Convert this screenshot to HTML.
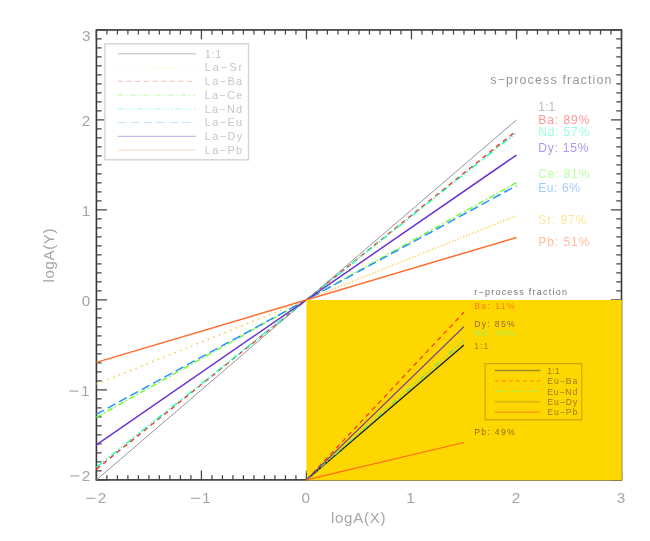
<!DOCTYPE html>
<html><head><meta charset="utf-8"><title>plot</title>
<style>html,body{margin:0;padding:0;background:#fff;}svg{display:block;will-change:transform;}text{font-family:"Liberation Sans",sans-serif;}</style>
</head><body>
<svg width="650" height="541" viewBox="0 0 650 541">
<rect x="0" y="0" width="650" height="541" fill="#ffffff"/>
<g stroke="#363636" stroke-width="1.6" fill="none" stroke-linecap="square">
<rect x="96.40" y="29.95" width="525.10" height="449.95"/>
</g>
<g stroke="#444444" stroke-width="1.25" fill="none">
<path d="M96.40 29.95v9.4M96.40 479.90v-9.4"/>
<path d="M106.90 29.95v4.6M106.90 479.90v-4.6"/>
<path d="M117.40 29.95v4.6M117.40 479.90v-4.6"/>
<path d="M127.91 29.95v4.6M127.91 479.90v-4.6"/>
<path d="M138.41 29.95v4.6M138.41 479.90v-4.6"/>
<path d="M148.91 29.95v4.6M148.91 479.90v-4.6"/>
<path d="M159.41 29.95v4.6M159.41 479.90v-4.6"/>
<path d="M169.91 29.95v4.6M169.91 479.90v-4.6"/>
<path d="M180.42 29.95v4.6M180.42 479.90v-4.6"/>
<path d="M190.92 29.95v4.6M190.92 479.90v-4.6"/>
<path d="M201.42 29.95v9.4M201.42 479.90v-9.4"/>
<path d="M211.92 29.95v4.6M211.92 479.90v-4.6"/>
<path d="M222.42 29.95v4.6M222.42 479.90v-4.6"/>
<path d="M232.93 29.95v4.6M232.93 479.90v-4.6"/>
<path d="M243.43 29.95v4.6M243.43 479.90v-4.6"/>
<path d="M253.93 29.95v4.6M253.93 479.90v-4.6"/>
<path d="M264.43 29.95v4.6M264.43 479.90v-4.6"/>
<path d="M274.93 29.95v4.6M274.93 479.90v-4.6"/>
<path d="M285.44 29.95v4.6M285.44 479.90v-4.6"/>
<path d="M295.94 29.95v4.6M295.94 479.90v-4.6"/>
<path d="M306.44 29.95v9.4M306.44 479.90v-9.4"/>
<path d="M316.94 29.95v4.6M316.94 479.90v-4.6"/>
<path d="M327.44 29.95v4.6M327.44 479.90v-4.6"/>
<path d="M337.95 29.95v4.6M337.95 479.90v-4.6"/>
<path d="M348.45 29.95v4.6M348.45 479.90v-4.6"/>
<path d="M358.95 29.95v4.6M358.95 479.90v-4.6"/>
<path d="M369.45 29.95v4.6M369.45 479.90v-4.6"/>
<path d="M379.95 29.95v4.6M379.95 479.90v-4.6"/>
<path d="M390.46 29.95v4.6M390.46 479.90v-4.6"/>
<path d="M400.96 29.95v4.6M400.96 479.90v-4.6"/>
<path d="M411.46 29.95v9.4M411.46 479.90v-9.4"/>
<path d="M421.96 29.95v4.6M421.96 479.90v-4.6"/>
<path d="M432.46 29.95v4.6M432.46 479.90v-4.6"/>
<path d="M442.97 29.95v4.6M442.97 479.90v-4.6"/>
<path d="M453.47 29.95v4.6M453.47 479.90v-4.6"/>
<path d="M463.97 29.95v4.6M463.97 479.90v-4.6"/>
<path d="M474.47 29.95v4.6M474.47 479.90v-4.6"/>
<path d="M484.97 29.95v4.6M484.97 479.90v-4.6"/>
<path d="M495.48 29.95v4.6M495.48 479.90v-4.6"/>
<path d="M505.98 29.95v4.6M505.98 479.90v-4.6"/>
<path d="M516.48 29.95v9.4M516.48 479.90v-9.4"/>
<path d="M526.98 29.95v4.6M526.98 479.90v-4.6"/>
<path d="M537.48 29.95v4.6M537.48 479.90v-4.6"/>
<path d="M547.99 29.95v4.6M547.99 479.90v-4.6"/>
<path d="M558.49 29.95v4.6M558.49 479.90v-4.6"/>
<path d="M568.99 29.95v4.6M568.99 479.90v-4.6"/>
<path d="M579.49 29.95v4.6M579.49 479.90v-4.6"/>
<path d="M589.99 29.95v4.6M589.99 479.90v-4.6"/>
<path d="M600.50 29.95v4.6M600.50 479.90v-4.6"/>
<path d="M611.00 29.95v4.6M611.00 479.90v-4.6"/>
<path d="M621.50 29.95v9.4M621.50 479.90v-9.4"/>
<path d="M96.40 479.90h10.5M621.50 479.90h-10.5"/>
<path d="M96.40 470.90h5.2M621.50 470.90h-5.2"/>
<path d="M96.40 461.90h5.2M621.50 461.90h-5.2"/>
<path d="M96.40 452.90h5.2M621.50 452.90h-5.2"/>
<path d="M96.40 443.90h5.2M621.50 443.90h-5.2"/>
<path d="M96.40 434.90h5.2M621.50 434.90h-5.2"/>
<path d="M96.40 425.91h5.2M621.50 425.91h-5.2"/>
<path d="M96.40 416.91h5.2M621.50 416.91h-5.2"/>
<path d="M96.40 407.91h5.2M621.50 407.91h-5.2"/>
<path d="M96.40 398.91h5.2M621.50 398.91h-5.2"/>
<path d="M96.40 389.91h10.5M621.50 389.91h-10.5"/>
<path d="M96.40 380.91h5.2M621.50 380.91h-5.2"/>
<path d="M96.40 371.91h5.2M621.50 371.91h-5.2"/>
<path d="M96.40 362.91h5.2M621.50 362.91h-5.2"/>
<path d="M96.40 353.91h5.2M621.50 353.91h-5.2"/>
<path d="M96.40 344.91h5.2M621.50 344.91h-5.2"/>
<path d="M96.40 335.92h5.2M621.50 335.92h-5.2"/>
<path d="M96.40 326.92h5.2M621.50 326.92h-5.2"/>
<path d="M96.40 317.92h5.2M621.50 317.92h-5.2"/>
<path d="M96.40 308.92h5.2M621.50 308.92h-5.2"/>
<path d="M96.40 299.92h10.5M621.50 299.92h-10.5"/>
<path d="M96.40 290.92h5.2M621.50 290.92h-5.2"/>
<path d="M96.40 281.92h5.2M621.50 281.92h-5.2"/>
<path d="M96.40 272.92h5.2M621.50 272.92h-5.2"/>
<path d="M96.40 263.92h5.2M621.50 263.92h-5.2"/>
<path d="M96.40 254.92h5.2M621.50 254.92h-5.2"/>
<path d="M96.40 245.93h5.2M621.50 245.93h-5.2"/>
<path d="M96.40 236.93h5.2M621.50 236.93h-5.2"/>
<path d="M96.40 227.93h5.2M621.50 227.93h-5.2"/>
<path d="M96.40 218.93h5.2M621.50 218.93h-5.2"/>
<path d="M96.40 209.93h10.5M621.50 209.93h-10.5"/>
<path d="M96.40 200.93h5.2M621.50 200.93h-5.2"/>
<path d="M96.40 191.93h5.2M621.50 191.93h-5.2"/>
<path d="M96.40 182.93h5.2M621.50 182.93h-5.2"/>
<path d="M96.40 173.93h5.2M621.50 173.93h-5.2"/>
<path d="M96.40 164.94h5.2M621.50 164.94h-5.2"/>
<path d="M96.40 155.94h5.2M621.50 155.94h-5.2"/>
<path d="M96.40 146.94h5.2M621.50 146.94h-5.2"/>
<path d="M96.40 137.94h5.2M621.50 137.94h-5.2"/>
<path d="M96.40 128.94h5.2M621.50 128.94h-5.2"/>
<path d="M96.40 119.94h10.5M621.50 119.94h-10.5"/>
<path d="M96.40 110.94h5.2M621.50 110.94h-5.2"/>
<path d="M96.40 101.94h5.2M621.50 101.94h-5.2"/>
<path d="M96.40 92.94h5.2M621.50 92.94h-5.2"/>
<path d="M96.40 83.94h5.2M621.50 83.94h-5.2"/>
<path d="M96.40 74.94h5.2M621.50 74.94h-5.2"/>
<path d="M96.40 65.95h5.2M621.50 65.95h-5.2"/>
<path d="M96.40 56.95h5.2M621.50 56.95h-5.2"/>
<path d="M96.40 47.95h5.2M621.50 47.95h-5.2"/>
<path d="M96.40 38.95h5.2M621.50 38.95h-5.2"/>
<path d="M96.40 29.95h10.5M621.50 29.95h-10.5"/>
</g>
<line x1="96.40" y1="479.90" x2="516.48" y2="119.94" stroke="#949494" stroke-width="1.0"/>
<line x1="96.40" y1="384.15" x2="306.44" y2="299.92" stroke="#ffc83c" stroke-width="1.5" stroke-dasharray="1.5 4.5"/>
<line x1="306.44" y1="299.92" x2="516.48" y2="215.69" stroke="#ffc83c" stroke-width="1.3" stroke-dasharray="1.3 1.77"/>
<line x1="96.40" y1="469.10" x2="516.48" y2="130.74" stroke="#ff2a2a" stroke-width="1.45" stroke-dasharray="4.7 4"/>
<line x1="96.40" y1="417.27" x2="516.48" y2="182.57" stroke="#6cff2c" stroke-width="1.45" stroke-dasharray="6 2.5 1.5 2.5"/>
<line x1="96.40" y1="467.30" x2="516.48" y2="132.54" stroke="#1effb0" stroke-width="1.45" stroke-dasharray="7 2 1.4 2 1.4 2 1.4 2"/>
<line x1="96.40" y1="414.21" x2="516.48" y2="185.63" stroke="#2a90ff" stroke-width="1.45" stroke-dasharray="8.7 4.2"/>
<line x1="96.40" y1="444.80" x2="516.48" y2="155.04" stroke="#6a32d2" stroke-width="1.5"/>
<line x1="96.40" y1="362.37" x2="516.48" y2="237.47" stroke="#ff6a2a" stroke-width="1.45"/>
<rect x="306.44" y="299.92" width="315.36" height="180.38" fill="#ffd700"/>
<path d="M306.44 479.90v-7" stroke="#4a3c10" stroke-width="0.8"/>
<line x1="306.44" y1="479.90" x2="463.97" y2="344.91" stroke="#1a1a10" stroke-width="1.3"/>
<line x1="306.44" y1="479.90" x2="463.97" y2="312.25" stroke="#ff3408" stroke-width="1.2" stroke-dasharray="4.7 4"/>
<line x1="306.44" y1="479.90" x2="463.97" y2="340.33" stroke="#46f088" stroke-width="1.3" stroke-dasharray="6 2.2 1.4 2.2 1.4 2.2 1.4 2.2"/>
<line x1="306.44" y1="479.90" x2="463.97" y2="326.69" stroke="#6434a4" stroke-width="1.15"/>
<line x1="306.44" y1="479.90" x2="463.97" y2="442.51" stroke="#ff6a1a" stroke-width="1.1"/>
<rect x="104.9" y="43.8" width="143.6" height="116" fill="#ffffff" stroke="#d4d4d4" stroke-width="1.4"/>
<line x1="117.8" y1="53.80" x2="195.7" y2="53.80" stroke="#d0d0d0" stroke-width="1.5"/>
<text x="204.8" y="57.70" font-size="11" fill="#c6c6c6" textLength="16.5" lengthAdjust="spacing">1:1</text>
<line x1="117.8" y1="67.55" x2="195.7" y2="67.55" stroke="#fff0c0" stroke-width="1.0" stroke-dasharray="1.2 2.6"/>
<text x="204.8" y="71.45" font-size="11" fill="#c6c6c6" textLength="37.4" lengthAdjust="spacing">La−Sr</text>
<line x1="117.8" y1="81.30" x2="195.7" y2="81.30" stroke="#ffb4b4" stroke-width="1.0" stroke-dasharray="4.7 4"/>
<text x="204.8" y="85.20" font-size="11" fill="#c6c6c6" textLength="37.4" lengthAdjust="spacing">La−Ba</text>
<line x1="117.8" y1="95.05" x2="195.7" y2="95.05" stroke="#ccffb4" stroke-width="1.2" stroke-dasharray="6 2.5 1.5 2.5"/>
<text x="204.8" y="98.95" font-size="11" fill="#c6c6c6" textLength="37.4" lengthAdjust="spacing">La−Ce</text>
<line x1="117.8" y1="108.80" x2="195.7" y2="108.80" stroke="#b4ffe4" stroke-width="1.2" stroke-dasharray="6 2.2 1.4 2.2 1.4 2.2 1.4 2.2"/>
<text x="204.8" y="112.70" font-size="11" fill="#c6c6c6" textLength="37.4" lengthAdjust="spacing">La−Nd</text>
<line x1="117.8" y1="122.55" x2="195.7" y2="122.55" stroke="#c4e2ff" stroke-width="1.0" stroke-dasharray="8.7 4.2"/>
<text x="204.8" y="126.45" font-size="11" fill="#c6c6c6" textLength="37.4" lengthAdjust="spacing">La−Eu</text>
<line x1="117.8" y1="136.30" x2="195.7" y2="136.30" stroke="#b8a6ec" stroke-width="1.0"/>
<text x="204.8" y="140.20" font-size="11" fill="#c6c6c6" textLength="37.4" lengthAdjust="spacing">La−Dy</text>
<line x1="117.8" y1="150.05" x2="195.7" y2="150.05" stroke="#ffd6c6" stroke-width="1.0"/>
<text x="204.8" y="153.95" font-size="11" fill="#c6c6c6" textLength="37.4" lengthAdjust="spacing">La−Pb</text>
<text x="102.1" y="503.4" text-anchor="middle" font-size="15.3" fill="#a4a4a4">2</text>
<line x1="86.2" y1="498.3" x2="95.5" y2="498.3" stroke="#a4a4a4" stroke-width="1.1"/>
<text x="206.2" y="503.4" text-anchor="middle" font-size="15.3" fill="#a4a4a4">1</text>
<line x1="191.0" y1="498.3" x2="200.0" y2="498.3" stroke="#a4a4a4" stroke-width="1.1"/>
<text x="305.8" y="503.4" text-anchor="middle" font-size="15.3" fill="#a4a4a4">0</text>
<text x="410.6" y="503.4" text-anchor="middle" font-size="15.3" fill="#a4a4a4">1</text>
<text x="516.0" y="503.4" text-anchor="middle" font-size="15.3" fill="#a4a4a4">2</text>
<text x="621.0" y="503.4" text-anchor="middle" font-size="15.3" fill="#a4a4a4">3</text>
<text x="86.2" y="41.3" text-anchor="middle" font-size="15.3" fill="#a4a4a4">3</text>
<text x="86.1" y="125.6" text-anchor="middle" font-size="15.3" fill="#a4a4a4">2</text>
<text x="86.0" y="215.6" text-anchor="middle" font-size="15.3" fill="#a4a4a4">1</text>
<text x="86.1" y="306.2" text-anchor="middle" font-size="15.3" fill="#a4a4a4">0</text>
<text x="85.2" y="396.1" text-anchor="middle" font-size="15.3" fill="#a4a4a4">1</text>
<line x1="69.2" y1="391.1" x2="78.5" y2="391.1" stroke="#a4a4a4" stroke-width="1.1"/>
<text x="86.0" y="480.9" text-anchor="middle" font-size="15.3" fill="#a4a4a4">2</text>
<line x1="70.0" y1="475.9" x2="79.4" y2="475.9" stroke="#a4a4a4" stroke-width="1.1"/>
<text x="358.2" y="522.6" text-anchor="middle" font-size="15" fill="#a6a6a6" textLength="54.5" lengthAdjust="spacing">logA(X)</text>
<text transform="translate(54.2 255.5) rotate(-90)" text-anchor="middle" font-size="15" fill="#a6a6a6" textLength="54" lengthAdjust="spacing">logA(Y)</text>
<text x="490.2" y="84" font-size="12.5" fill="#989898" textLength="121.3" lengthAdjust="spacing">s−process fraction</text>
<text x="538.3" y="110.6" font-size="12" fill="#bcbcbc" textLength="17" lengthAdjust="spacing">1:1</text>
<text x="538.3" y="124.0" font-size="12" fill="#ff9696" textLength="51" lengthAdjust="spacing">Ba: 89%</text>
<text x="538.3" y="135.8" font-size="12" fill="#98ffdc" textLength="51" lengthAdjust="spacing">Nd: 57%</text>
<text x="538.3" y="151.7" font-size="12" fill="#b09ae8" textLength="50" lengthAdjust="spacing">Dy: 15%</text>
<text x="538.3" y="178.3" font-size="12" fill="#bcffa2" textLength="51" lengthAdjust="spacing">Ce: 81%</text>
<text x="538.3" y="192.3" font-size="12" fill="#a2ceff" textLength="41.5" lengthAdjust="spacing">Eu: 6%</text>
<text x="538.3" y="223.8" font-size="12" fill="#ffe49a" textLength="48" lengthAdjust="spacing">Sr: 97%</text>
<text x="538.3" y="245.6" font-size="12" fill="#ffbca2" textLength="51" lengthAdjust="spacing">Pb: 51%</text>
<text x="474.2" y="295.4" font-size="9" fill="#747474" textLength="92.8" lengthAdjust="spacing">r−process fraction</text>
<text x="474.2" y="309.0" font-size="8.6" fill="#ff7a14" textLength="40.5" lengthAdjust="spacing">Ba: 11%</text>
<text x="474.2" y="326.7" font-size="8.6" fill="#8c6a3c" textLength="40.5" lengthAdjust="spacing">Dy: 85%</text>
<text x="474.2" y="335.6" font-size="8.6" fill="#a8ee50" textLength="40.5" lengthAdjust="spacing">Nd: 43%</text>
<text x="474.2" y="348.9" font-size="8.6" fill="#9c8620" textLength="14" lengthAdjust="spacing">1:1</text>
<text x="474.2" y="434.6" font-size="8.6" fill="#8c6a14" textLength="40.5" lengthAdjust="spacing">Pb: 49%</text>
<rect x="485.1" y="363.7" width="96.7" height="56.1" fill="none" stroke="#b89a0a" stroke-width="0.9"/>
<line x1="494.9" y1="370.50" x2="540.4" y2="370.50" stroke="#a08c28" stroke-width="1.4"/>
<text x="547.2" y="373.60" font-size="8.6" fill="#9a7a1e" textLength="12.5" lengthAdjust="spacing">1:1</text>
<line x1="494.9" y1="380.95" x2="540.4" y2="380.95" stroke="#ff8c14" stroke-width="1.0" stroke-dasharray="4 3"/>
<text x="547.2" y="384.05" font-size="8.6" fill="#9a7a1e" textLength="30" lengthAdjust="spacing">Eu−Ba</text>
<line x1="494.9" y1="391.40" x2="540.4" y2="391.40" stroke="#a0f050" stroke-width="1.0" stroke-dasharray="6 2 1.2 2 1.2 2 1.2 2"/>
<text x="547.2" y="394.50" font-size="8.6" fill="#9a7a1e" textLength="30" lengthAdjust="spacing">Eu−Nd</text>
<line x1="494.9" y1="401.85" x2="540.4" y2="401.85" stroke="#a08628" stroke-width="0.6"/>
<text x="547.2" y="404.95" font-size="8.6" fill="#9a7a1e" textLength="30" lengthAdjust="spacing">Eu−Dy</text>
<line x1="494.9" y1="412.30" x2="540.4" y2="412.30" stroke="#ffa014" stroke-width="1.5"/>
<text x="547.2" y="415.40" font-size="8.6" fill="#9a7a1e" textLength="30" lengthAdjust="spacing">Eu−Pb</text>
</svg>
</body></html>
